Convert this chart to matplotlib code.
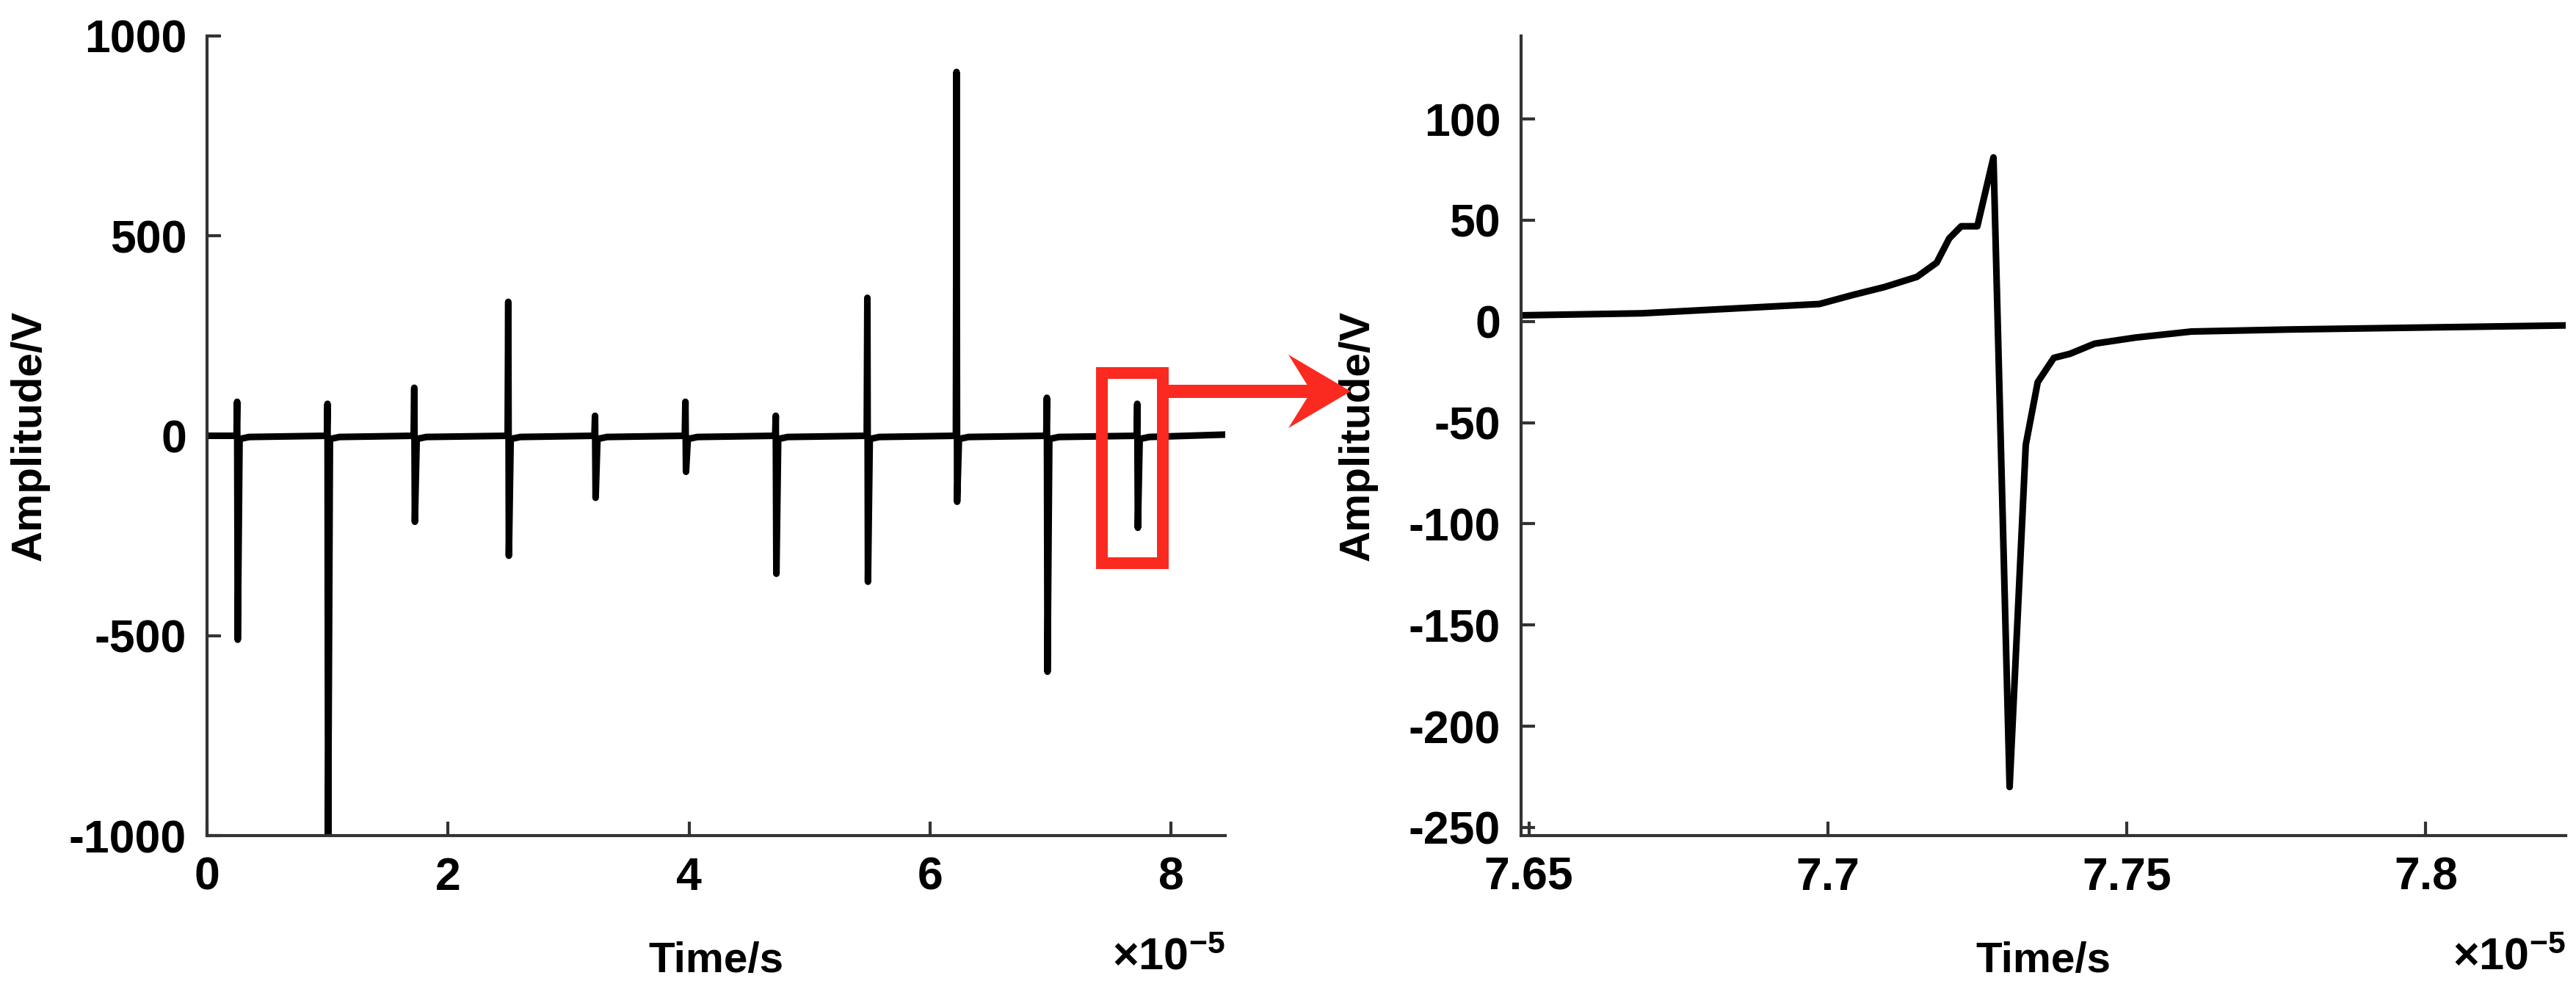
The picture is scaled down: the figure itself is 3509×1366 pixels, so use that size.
import matplotlib.pyplot as plt
import matplotlib.transforms as mtransforms
import numpy as np
from matplotlib.patches import Rectangle, FancyArrow

# left panel: pulse train (times in 1e-5 s)
pulse_t = [0.25, 1.0, 1.72, 2.5, 3.22, 3.97, 4.72, 5.48, 6.22, 6.97, 7.72]
pulse_pos = [85, 80, 120, 335, 50, 85, 50, 345, 910, 95, 80]
pulse_neg = [-510, -1000, -215, -300, -155, -90, -345, -365, -165, -590, -230]

# right panel: zoom on last pulse (times in 1e-5 s)
zoom_t = [7.6487, 7.6689, 7.6986, 7.7041, 7.7095, 7.7149, 7.7182, 7.7203, 7.7223,
          7.7250, 7.7277, 7.7304, 7.7331, 7.7351, 7.7378, 7.7405, 7.7446, 7.7514,
          7.7608, 7.7770, 7.8230]
zoom_v = [3, 4, 8.6, 13, 17, 22, 29, 41, 47, 47, 81, -230, -61, -30, -18, -16, -11,
          -8, -5, -4, -2]

plt.rcParams['font.family'] = ['Liberation Sans', 'DejaVu Sans']
plt.rcParams['font.weight'] = 'bold'
plt.rcParams['axes.labelweight'] = 'bold'
plt.rcParams['axes.unicode_minus'] = False
plt.rcParams['mathtext.fontset'] = 'custom'
plt.rcParams['mathtext.rm'] = 'Liberation Sans'
plt.rcParams['mathtext.default'] = 'rm'

W, H = 3509, 1366
fig = plt.figure(figsize=(W / 100, H / 100), dpi=100)
ax1 = fig.add_axes([282/W, 1 - 1138/H, (1669-282)/W, (1138-49)/H])
ax2 = fig.add_axes([2072/W, 1 - 1138/H, (3495-2072)/W, (1138-49)/H])

xs, ys = [0.0], [0.0]
for t, p, n in zip(pulse_t, pulse_pos, pulse_neg):
    xs += [t - 0.005, t, t + 0.005, t + 0.02, t + 0.1]
    ys += [0, p, n, -8, -3]
xs.append(8.45)
ys.append(3)
ax1.plot(np.array(xs), ys, color='black', lw=6.5)
ax1.set_xlim(0, 8.45)
ax1.set_ylim(-1000, 1000)
ax1.set_xticks([0, 2, 4, 6, 8])
ax1.set_yticks([-1000, -500, 0, 500, 1000])

ax2.plot(zoom_t, zoom_v, color='black', lw=6.5)
ax2.set_xlim(7.6487, 7.8234)
ax2.set_ylim(-254, 141)
ax2.set_xticks([7.65, 7.7, 7.75, 7.8])
ax2.set_xticklabels(['7.65', '7.7', '7.75', '7.8'])
ax2.set_yticks([-250, -200, -150, -100, -50, 0, 50, 100])

for ax, ylab_x in ((ax1, 68), (ax2, 1877)):
    ax.spines['top'].set_visible(False)
    ax.spines['right'].set_visible(False)
    for s in ax.spines.values():
        s.set_linewidth(3)
        s.set_color('#333333')
    ax.tick_params(labelsize=45, width=3, length=14, pad=20, direction='in',
                   color='#333333')
    ax.set_xlabel('Time/s', fontsize=42)
    ax.set_ylabel('Amplitude/V', fontsize=42)
    ax.xaxis.set_label_coords(0.5, 1 - 1282/H,
                              transform=mtransforms.blended_transform_factory(ax.transAxes, fig.transFigure))
    ax.yaxis.set_label_coords(ylab_x/W, 1 - 594/H, transform=fig.transFigure)
    ax.text(1.0, 1 - 1305/H, r'$\times10^{-5}$',
            transform=mtransforms.blended_transform_factory(ax.transAxes, fig.transFigure),
            ha='right', va='center', fontsize=44)

red = '#fa2a20'
fig.patches.append(Rectangle((1501/W, 1 - 767/H), 83/W, 259/H,
                             transform=fig.transFigure, fill=False,
                             edgecolor=red, lw=11.5))
fig.patches.append(FancyArrow(1592/W, 1 - 533/H, (1840 - 1592)/W, 0,
                              width=18/H, head_width=100/H, head_length=85/W,
                              overhang=0.3, length_includes_head=True,
                              transform=fig.transFigure, color=red, lw=0))

fig.savefig('out.png', dpi=100)
